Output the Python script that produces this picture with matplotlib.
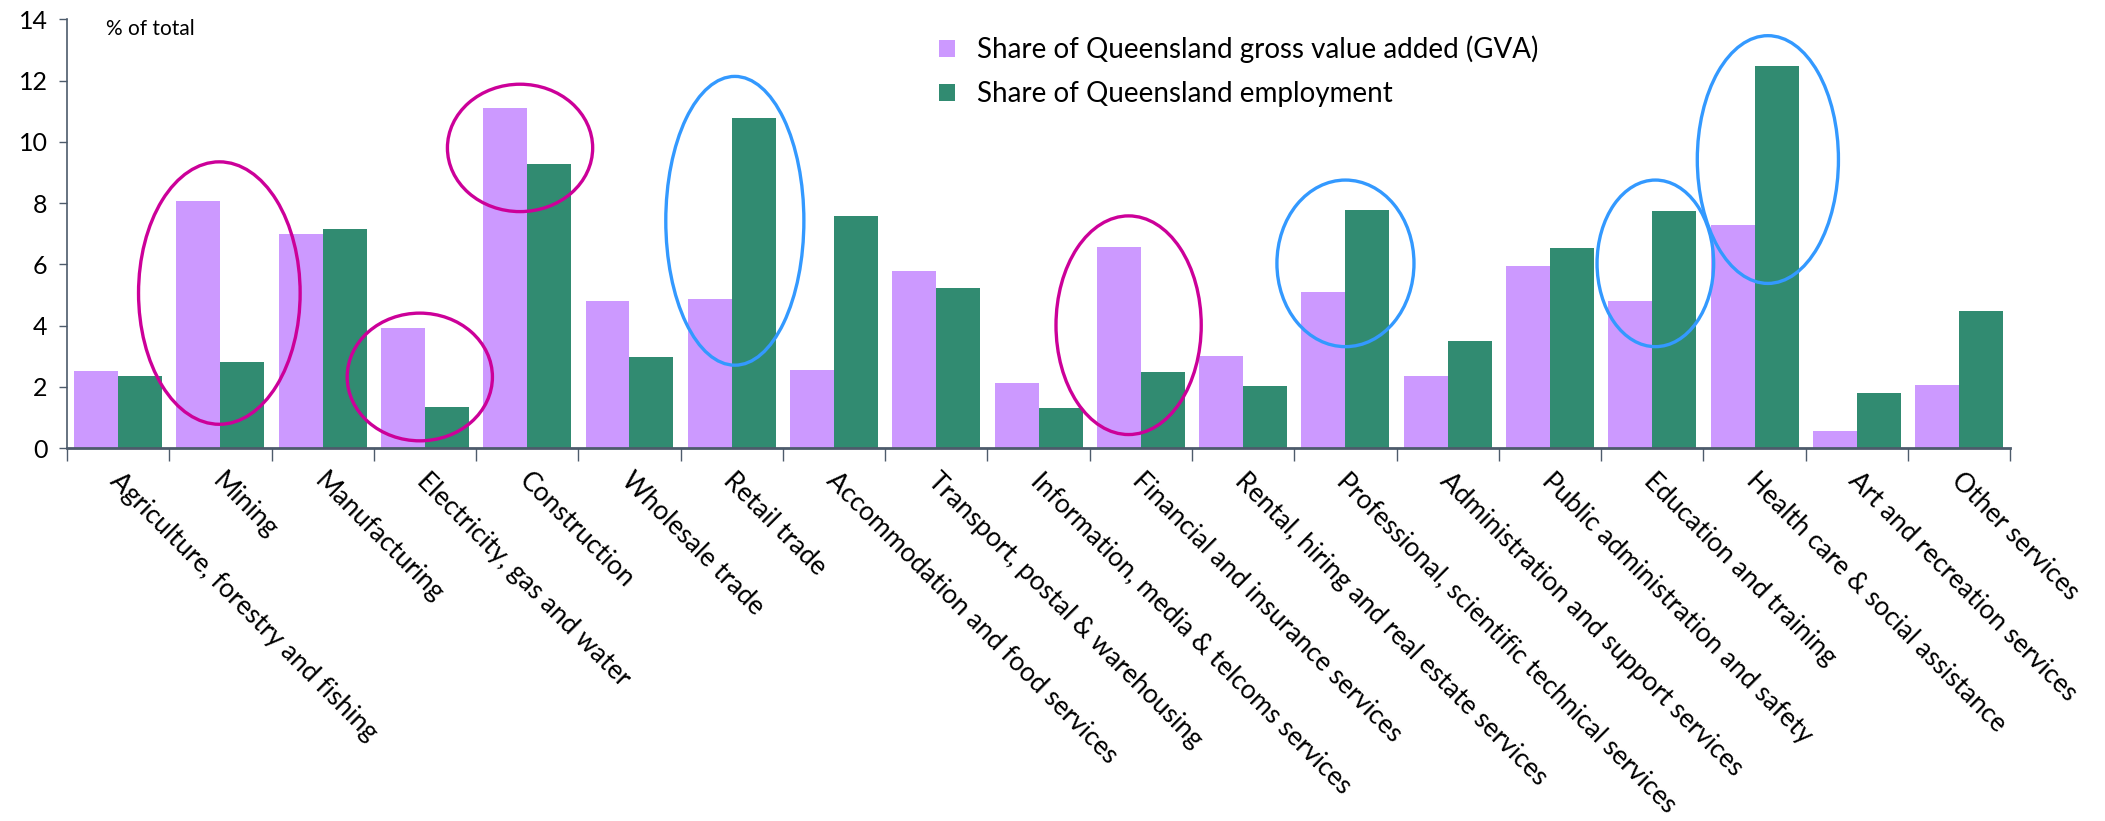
import matplotlib.pyplot as plt
import numpy as np
from matplotlib.patches import Ellipse

# 行业类别
categories = ['Agriculture, forestry and fishing', 'Mining', 'Manufacturing',
              'Electricity, gas and water', 'Construction', 'Wholesale trade',
              'Retail trade', 'Accommodation and food services',
              'Transport, postal & warehousing', 'Information, media & telcoms services',
              'Financial and insurance services', 'Rental, hiring and real estate services',
              'Professional, scientific technical services',
              'Administration and support services', 'Public administration and safety',
              'Education and training', 'Health care & social assistance',
              'Art and recreation services', 'Other services']

# 两个系列的数值 (% of total)
gva_share = [2.52, 8.06, 6.98, 3.93, 11.10, 4.80, 4.86, 2.55, 5.79, 2.11,
             6.56, 3.00, 5.08, 2.35, 5.94, 4.79, 7.27, 0.55, 2.06]
emp_share = [2.35, 2.81, 7.14, 1.34, 9.28, 2.96, 10.79, 7.57, 5.24, 1.31,
             2.49, 2.02, 7.77, 3.49, 6.52, 7.74, 12.49, 1.79, 4.48]

series_names = ['Share of Queensland gross value added (GVA)',
                'Share of Queensland employment']

# 手绘的椭圆标注: (x中心, y中心, 宽, 高, 颜色)
circles = [
    (0.99, 5.06, 1.58, 8.57, '#CC0099'),
    (2.95, 2.32, 1.42, 4.17, '#CC0099'),
    (3.93, 9.80, 1.42, 4.16, '#CC0099'),
    (6.03, 7.42, 1.35, 9.43, '#3399FF'),
    (9.88, 4.01, 1.42, 7.14, '#CC0099'),
    (12.00, 6.03, 1.34, 5.44, '#3399FF'),
    (15.03, 6.03, 1.14, 5.44, '#3399FF'),
    (16.13, 9.42, 1.38, 8.09, '#3399FF'),
]

plt.rcParams['font.family'] = ['Lato', 'DejaVu Sans']

fig = plt.figure(figsize=(21.05, 8.21), dpi=100)
ax = fig.add_axes([0.0318, 0.4543, 0.9232, 0.5222])

x = np.arange(len(categories))
w = 0.43
ax.bar(x - w / 2, gva_share, w, color='#CC99FF', label=series_names[0])
ax.bar(x + w / 2, emp_share, w, color='#318B71', label=series_names[1])

for cx, cy, ew, eh, c in circles:
    ax.add_patch(Ellipse((cx, cy), ew, eh, fill=False, edgecolor=c, lw=2.4,
                         zorder=5))

ax.set_xlim(-0.5, len(categories) - 0.5)
ax.set_ylim(0, 14)
ax.set_yticks(range(0, 15, 2))
ax.tick_params(axis='y', labelsize=18, length=6, width=1, color='#4D5B6B',
               direction='out', pad=8)

ax.set_xticks(np.arange(-0.5, len(categories), 1.0))
ax.set_xticklabels([])
ax.tick_params(axis='x', length=9, width=1, color='#4D5B6B', direction='out')
for i, lab in enumerate(categories):
    ax.text(i - 0.04, -0.95, lab, rotation=-45, rotation_mode='anchor',
            ha='left', va='center', fontsize=19)

for s in ['top', 'right']:
    ax.spines[s].set_visible(False)
ax.spines['left'].set_color('#4D5B6B')
ax.spines['bottom'].set_color('#4D5B6B')
ax.spines['left'].set_linewidth(1.2)
ax.spines['bottom'].set_linewidth(2)

ax.text(0.02, 1.0, '% of total', transform=ax.transAxes, fontsize=15,
        va='top', ha='left')

ax.legend(loc='upper left', bbox_to_anchor=(0.436, 1.02), frameon=False,
          fontsize=20, handlelength=0.55, handleheight=0.55, labelspacing=0.65,
          handletextpad=0.8)

plt.savefig('out.png', dpi=100)
